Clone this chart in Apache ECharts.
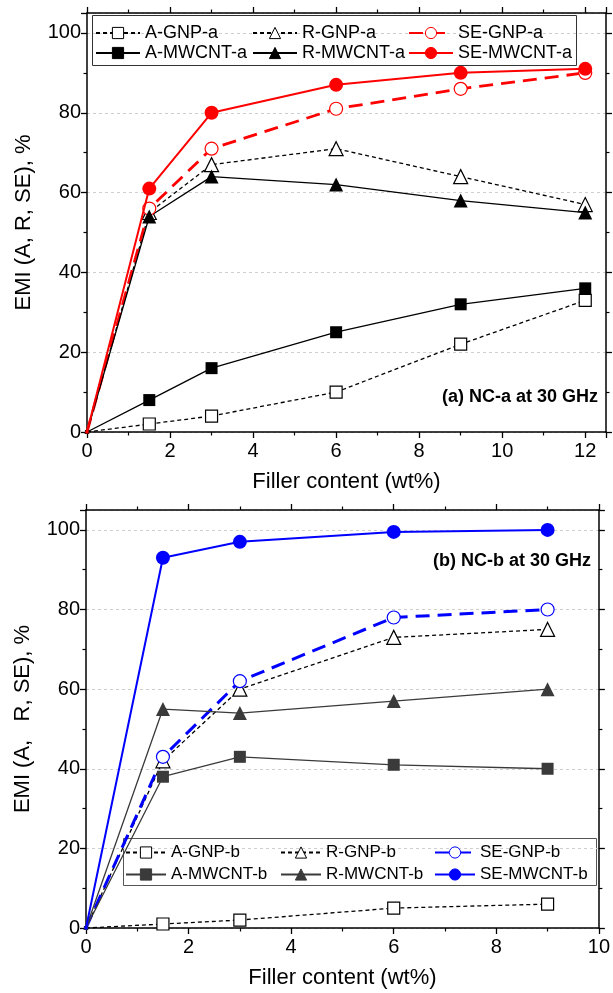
<!DOCTYPE html>
<html>
<head>
<meta charset="utf-8">
<script src="https://cdn.jsdelivr.net/npm/echarts@6/dist/echarts.min.js"></script>
<style>
html,body{margin:0;padding:0;background:#fff;}
#c{width:613px;height:993px;}
</style>
</head>
<body>
<div id="c"></div>
<script>
// ---- data: panel (a) ----
const xA = [0, 1.5, 3, 6, 9, 12];
const aGnpA = [0, 2, 4, 10, 22, 33];
const rGnpA = [0, 55, 67, 71, 64, 57];
const seGnpA = [0, 56, 71, 81, 86, 90];
const aCntA = [0, 8, 16, 25, 32, 36];
const rCntA = [0, 54, 64, 62, 58, 55];
const seCntA = [0, 61, 80, 87, 90, 91];
// ---- data: panel (b) ----
const xB = [0, 1.5, 3, 6, 9];
const aGnpB = [0, 1, 2, 5, 6];
const rGnpB = [0, 42, 60, 73, 75];
const seGnpB = [0, 43, 62, 78, 80];
const aCntB = [0, 38, 43, 41, 40];
const rCntB = [0, 55, 54, 57, 60];
const seCntB = [0, 93, 97, 99.5, 100];
// ---- axis settings ----
const xMaxA = 12.5, xMaxB = 10, yMax = 105;
const xStep = 2, yStep = 20;
const xTitle = 'Filler content (wt%)';
const yTitleA = 'EMI (A, R, SE), %';
const yTitleB = 'EMI (A,   R, SE), %';
const noteA = '(a) NC-a at 30 GHz';
const noteB = '(b) NC-b at 30 GHz';

const FONT = '"Liberation Sans", Arial, sans-serif';
const BLACK = '#000', RED = '#ff0000', BLUE = '#0000ff', GRAY = '#3a3a3a';

function pairs(xs, ys){ return xs.map((x,i)=>[x, ys[i]]); }

function mk(name, xs, ys, gi, o){
  return {
    name, type:'line', xAxisIndex: gi*2, yAxisIndex: gi*2,
    data: pairs(xs, ys),
    symbol: o.symbol,
    symbolSize: (v, p) => p.dataIndex === 0 ? 3 : o.size,
    lineStyle: {color:o.color, width:o.width, type:o.dash || 'solid'},
    itemStyle: {color:o.open ? '#fff' : o.color, borderColor:o.color, borderWidth:o.open ? 1.2 : 0},
    z: o.z || 2,
    animation:false
  };
}

function xAx(gi, max, pos){
  const main = pos === 'bottom';
  return {
    type:'value', gridIndex:gi, position:pos, min:0, max:max, interval:xStep,
    axisLine:{show:true, onZero:false, lineStyle:{color:BLACK, width:1.5}},
    axisTick:{show:true, length:6, lineStyle:{color:BLACK, width:1.3}},
    minorTick:{show:true, splitNumber:2, length:3.5, lineStyle:{color:BLACK, width:1.2}},
    axisLabel:{show:main, fontSize:20, color:BLACK, fontFamily:FONT, margin:9, showMaxLabel: max === 10},
    splitLine:{show:false},
    name: main ? xTitle : '', nameLocation:'middle', nameGap:39,
    nameTextStyle:{fontSize:22, color:BLACK, fontFamily:FONT}
  };
}
function yAx(gi, pos, title){
  const main = pos === 'left';
  return {
    type:'value', gridIndex:gi, position:pos, min:0, max:yMax, interval:yStep,
    axisLine:{show:true, onZero:false, lineStyle:{color:BLACK, width:1.5}},
    axisTick:{show:true, length:6, lineStyle:{color:BLACK, width:1.3}},
    minorTick:{show:true, splitNumber:2, length:3.5, lineStyle:{color:BLACK, width:1.2}},
    axisLabel:{show:main, fontSize:20, color:BLACK, fontFamily:FONT, margin:6, showMaxLabel:false},
    splitLine:{show:main, lineStyle:{color:'#cfcfcf', width:1, type:[3,3]}},
    name: main ? title : '', nameLocation:'middle', nameGap:52,
    nameTextStyle:{fontSize:22, color:BLACK, fontFamily:FONT}
  };
}

function leg(name, left, top, fs, iw){
  return {
    data:[name], left:left, top:top, orient:'horizontal',
    itemWidth:iw, itemHeight:14, itemGap:0, padding:0,
    selectedMode:false,
    itemStyle:{borderWidth:1},
    textStyle:{fontSize:fs, color:BLACK, fontFamily:FONT}
  };
}

const series = [
  mk('A-GNP-a', xA, aGnpA, 0, {symbol:'rect', size:12, color:BLACK, width:1.3, dash:[4,3], open:true}),
  mk('R-GNP-a', xA, rGnpA, 0, {symbol:'triangle', size:14, color:BLACK, width:1.3, dash:[4,3], open:true}),
  mk('SE-GNP-a', xA, seGnpA, 0, {symbol:'circle', size:13, color:RED, width:2.8, dash:[14,8], open:true}),
  mk('A-MWCNT-a', xA, aCntA, 0, {symbol:'rect', size:12, color:BLACK, width:1.3}),
  mk('R-MWCNT-a', xA, rCntA, 0, {symbol:'triangle', size:14, color:BLACK, width:1.3}),
  mk('SE-MWCNT-a', xA, seCntA, 0, {symbol:'circle', size:14, color:RED, width:2, z:3}),

  mk('A-GNP-b', xB, aGnpB, 1, {symbol:'rect', size:12, color:BLACK, width:1.3, dash:[4,3], open:true}),
  mk('R-GNP-b', xB, rGnpB, 1, {symbol:'triangle', size:14, color:BLACK, width:1.3, dash:[4,3], open:true}),
  mk('SE-GNP-b', xB, seGnpB, 1, {symbol:'circle', size:13, color:BLUE, width:3, dash:[14,8], open:true}),
  mk('A-MWCNT-b', xB, aCntB, 1, {symbol:'rect', size:12, color:GRAY, width:1.3}),
  mk('R-MWCNT-b', xB, rCntB, 1, {symbol:'triangle', size:14, color:GRAY, width:1.3}),
  mk('SE-MWCNT-b', xB, seCntB, 1, {symbol:'circle', size:14, color:BLUE, width:2, z:3})
];

const legends = [
  leg('A-GNP-a', 95, 24, 18, 44), leg('R-GNP-a', 252, 24, 18, 44), leg('SE-GNP-a', 408, 24, 18, 44),
  leg('A-MWCNT-a', 95, 44, 18, 44), leg('R-MWCNT-a', 252, 44, 18, 44), leg('SE-MWCNT-a', 408, 44, 18, 44),
  leg('A-GNP-b', 125, 844, 17, 40), leg('R-GNP-b', 280, 844, 17, 40), leg('SE-GNP-b', 434, 844, 17, 40),
  leg('A-MWCNT-b', 125, 866, 17, 40), leg('R-MWCNT-b', 280, 866, 17, 40), leg('SE-MWCNT-b', 434, 866, 17, 40)
];

const chart = echarts.init(document.getElementById('c'), null, {renderer:'canvas'});
chart.setOption({
  backgroundColor:'#fff',
  animation:false,
  grid:[
    {left:87, top:13, width:519, height:419},
    {left:86, top:510, width:513, height:418}
  ],
  xAxis:[xAx(0,xMaxA,'bottom'), xAx(0,xMaxA,'top'), xAx(1,xMaxB,'bottom'), xAx(1,xMaxB,'top')],
  yAxis:[yAx(0,'left',yTitleA), yAx(0,'right',''), yAx(1,'left',yTitleB), yAx(1,'right','')],
  legend: legends,
  series: series,
  graphic:[
    {type:'rect', shape:{x:92.5, y:15.5, width:484, height:50}, style:{fill:'#fff', stroke:'#333', lineWidth:1}, z:0, silent:true},
    {type:'rect', shape:{x:123.5, y:838.5, width:473, height:47}, style:{fill:'#fff', stroke:'#555', lineWidth:1}, z:0, silent:true},
    {type:'text', right:15, top:388, style:{text:noteA, font:'bold 18px ' + FONT, fill:BLACK}},
    {type:'text', right:22, top:552, style:{text:noteB, font:'bold 18px ' + FONT, fill:BLACK}}
  ]
});
</script>
</body>
</html>
